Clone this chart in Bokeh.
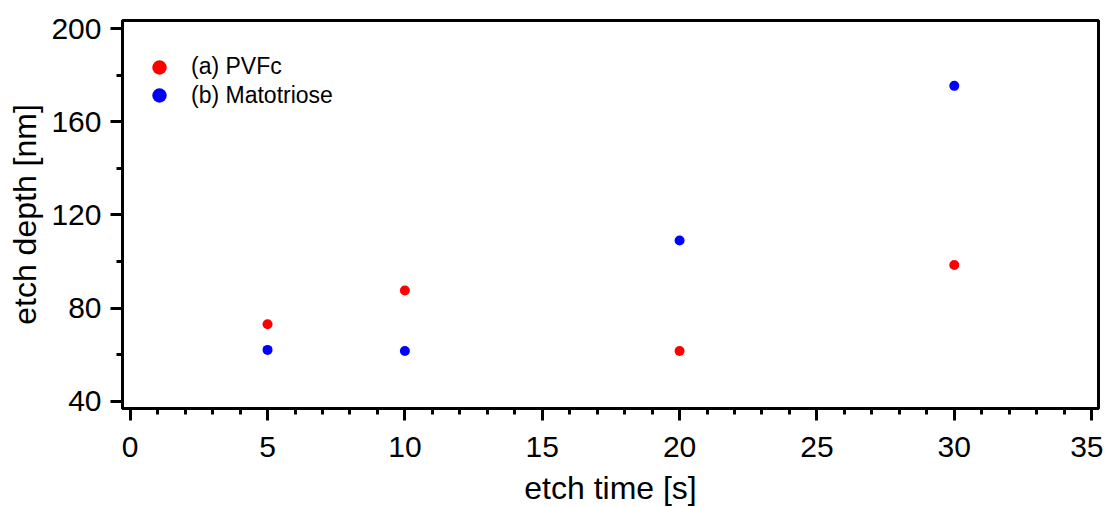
from bokeh.plotting import figure
from bokeh.models import ColumnDataSource, Range1d, FixedTicker, Legend, LegendItem
from bokeh.embed import file_html
from bokeh.resources import INLINE

# ---- data ----
etch_time = [5, 10, 20, 30]
pvfc_depth = [73, 87.5, 61.5, 98.5]
matotriose_depth = [62, 61.5, 109, 175.5]
series_names = ["(a) PVFc", "(b) Matotriose"]
series_colors = ["#ff0000", "#0000ff"]

x_major = [0, 5, 10, 15, 20, 25, 30, 35]
x_minor = list(range(0, 36))
y_major = [40, 80, 120, 160, 200]
y_minor = [60, 100, 140, 180]

FONT = "Liberation Sans"

p = figure(frame_width=976, frame_height=388,
           min_border_left=122, min_border_right=5,
           min_border_top=20, min_border_bottom=60,
           x_range=Range1d(-0.28, 35.25), y_range=Range1d(36.8, 203.6),
           output_backend="svg", toolbar_location=None,
           background_fill_color="white", border_fill_color="white")

p.xgrid.visible = False
p.ygrid.visible = False
p.outline_line_color = "black"
p.outline_line_width = 3
p.outline_line_alpha = 1

src_a = ColumnDataSource(dict(x=etch_time, y=pvfc_depth))
src_b = ColumnDataSource(dict(x=etch_time, y=matotriose_depth))
ra = p.scatter("x", "y", source=src_a, size=10, color=series_colors[0], line_color=None)
rb = p.scatter("x", "y", source=src_b, size=10, color=series_colors[1], line_color=None)

for ax, major, minor in ((p.xaxis[0], x_major, x_minor), (p.yaxis[0], y_major, y_minor)):
    ax.ticker = FixedTicker(ticks=major, minor_ticks=minor)
    ax.axis_line_width = 3
    ax.axis_line_color = "black"
    ax.major_tick_line_width = 3
    ax.minor_tick_line_width = 3
    ax.major_tick_line_color = "black"
    ax.minor_tick_line_color = "black"
    ax.major_tick_out = 12
    ax.major_tick_in = 0
    ax.minor_tick_out = 6
    ax.minor_tick_in = 0
    ax.major_label_text_font = FONT
    ax.major_label_text_font_size = "30px"
    ax.major_label_text_color = "black"
    ax.axis_label_text_font = FONT
    ax.axis_label_text_font_size = "32px"
    ax.axis_label_text_font_style = "normal"
    ax.axis_label_text_color = "black"

p.xaxis[0].axis_label = "etch time [s]"
p.yaxis[0].axis_label = "etch depth [nm]"
p.xaxis[0].major_label_standoff = 16
p.xaxis[0].axis_label_standoff = 10
p.yaxis[0].major_label_standoff = 9
p.yaxis[0].axis_label_standoff = 5
p.yaxis[0].major_label_orientation = "horizontal"

common = dict(margin=0, padding=0, spacing=0, glyph_width=36, glyph_height=36,
              label_standoff=14, label_text_font=FONT, label_text_font_size="23px",
              label_text_color="black", border_line_color=None, background_fill_alpha=0)
legend_a = Legend(items=[LegendItem(label=series_names[0], renderers=[ra])],
                  location=(19, 323.5), **common)
legend_b = Legend(items=[LegendItem(label=series_names[1], renderers=[rb])],
                  location=(19, 295), **common)
p.add_layout(legend_a)
p.add_layout(legend_b)

open("out.html", "w").write(file_html(p, INLINE))
